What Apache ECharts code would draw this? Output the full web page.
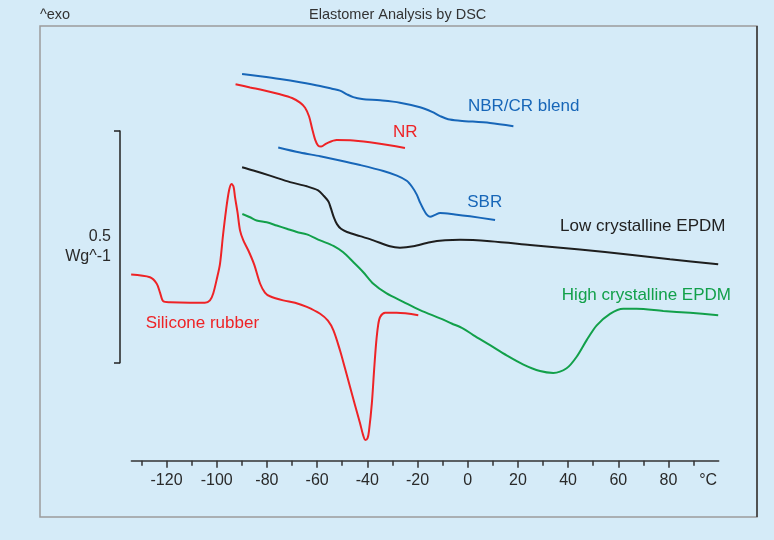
<!DOCTYPE html>
<html><head><meta charset="utf-8">
<script src="https://cdn.jsdelivr.net/npm/echarts@6/dist/echarts.min.js"></script>
<style>html,body{margin:0;padding:0;background:#d5ebf8}#c{width:774px;height:540px}</style>
</head><body><div id="c"></div>
<script>
// Temperature (°C) and heat flow (W/g, arbitrary offset)
const siliconeT = [-134.1,-126.6,-123.9,-122.6,-121.3,-118.6,-110.6,-104.7,-102.7,-101.4,-99.9,-98.7,-97.5,-96.3,-95.1,-94.1,-93.3,-92.7,-91.7,-90.7,-89.4,-87.4,-85.1,-82.7,-80.8,-78.8,-73.5,-68.8,-64.1,-58.8,-55.7,-53.5,-50.9,-48.9,-46.9,-44.9,-42.9,-41.7,-40.8,-39.9,-39.3,-38.2,-37.3,-36.5,-35.7,-34.9,-32.9,-28.3,-19.7];
const siliconeV = [0.403,0.397,0.383,0.364,0.345,0.343,0.342,0.342,0.347,0.362,0.395,0.426,0.488,0.542,0.585,0.599,0.593,0.570,0.537,0.498,0.477,0.455,0.425,0.383,0.364,0.356,0.347,0.342,0.333,0.318,0.303,0.282,0.239,0.200,0.160,0.120,0.081,0.056,0.045,0.049,0.066,0.124,0.196,0.254,0.293,0.311,0.320,0.320,0.315];

const lowEpdmT = [-89.9,-85.4,-78.8,-70.8,-64.1,-59.6,-57.3,-55.5,-54.5,-53.3,-52.1,-50.5,-48.1,-42.9,-37.6,-31,-27,-21.7,-15,-9,-3.1,8.9,24.8,44.7,64.7,80.6,99.8];
const lowEpdmV = [0.635,0.628,0.617,0.603,0.594,0.585,0.573,0.561,0.546,0.526,0.512,0.502,0.495,0.486,0.477,0.464,0.461,0.464,0.473,0.477,0.478,0.475,0.467,0.457,0.446,0.436,0.425];

const highEpdmT = [-89.8,-86.7,-84.1,-80.1,-76.1,-72.1,-68.1,-64.1,-58.8,-53.5,-49.6,-45.6,-41.6,-37.6,-32.3,-25.7,-19,-11,-6.4,-1.8,2.2,8.9,15.5,22.2,28.8,34.1,39.4,43.4,47.4,51.4,56.7,62,67.3,77.9,88.6,99.8];
const highEpdmV = [0.534,0.527,0.520,0.516,0.509,0.502,0.495,0.490,0.477,0.465,0.451,0.430,0.408,0.383,0.362,0.344,0.326,0.308,0.297,0.286,0.272,0.250,0.228,0.208,0.194,0.190,0.200,0.225,0.261,0.293,0.318,0.329,0.329,0.324,0.320,0.315];

const nbrT = [-89.9,-82.7,-74.8,-66.8,-58.8,-54.1,-50.9,-48.1,-45.6,-42.1,-34.9,-27,-19,-14.2,-11,-7.8,-3.1,8.9,18.2];
const nbrV = [0.837,0.832,0.826,0.819,0.811,0.805,0.801,0.793,0.787,0.783,0.780,0.775,0.765,0.755,0.746,0.739,0.736,0.731,0.724];

const nrT = [-92.5,-86.7,-81.4,-74.8,-70,-66.8,-64.8,-63.2,-62,-60.8,-59.6,-58.4,-56.2,-52.2,-45.6,-36.3,-25];
const nrV = [0.815,0.808,0.802,0.793,0.785,0.775,0.764,0.745,0.719,0.695,0.682,0.680,0.687,0.694,0.693,0.687,0.677];

const sbrT = [-75.5,-66.8,-58.8,-50.9,-42.9,-33.6,-28.2,-24.3,-22.2,-20.3,-19,-17.7,-16.4,-15,-13,-11,-5.1,0.9,10.9];
const sbrV = [0.678,0.667,0.659,0.650,0.640,0.627,0.617,0.606,0.593,0.576,0.559,0.545,0.533,0.528,0.532,0.536,0.533,0.529,0.521];

const majorTicks = [-120,-100,-80,-60,-40,-20,0,20,40,60,80];
const minorTicks = [-130,-110,-90,-70,-50,-30,-10,10,30,50,70,90];
const unitLabel = '°C';
const unitAt = 95.8;

const labelNames = ['NBR/CR blend','NR','SBR','Low crystalline EPDM','High crystalline EPDM','Silicone rubber'];
const labelT = [0.1,-29.8,-0.2,36.8,37.5,-128.3];
const labelV = [0.768,0.711,0.559,0.508,0.359,0.298];

const BLUE = '#1766b8', RED = '#ee2326', BLACK = '#1e1e1e', GREEN = '#12a04a';
const labelColors = [BLUE, RED, BLUE, '#222', GREEN, RED];
const FONT = '"Liberation Sans", Arial, sans-serif';

function line(name, T, V, color) {
  return {
    type: 'line', name, xAxisIndex: 0, yAxisIndex: 0,
    data: T.map((t, i) => [t, V[i]]),
    showSymbol: false, symbol: 'none',
    smooth: 0.3,
    lineStyle: { color, width: 2 }, itemStyle: { color }, z: 3
  };
}

const chart = echarts.init(document.getElementById('c'), null, { renderer: 'canvas' });
chart.setOption({
  animation: false,
  backgroundColor: '#d5ebf8',
  textStyle: { fontFamily: FONT },
  title: [
    { text: 'Elastomer Analysis by DSC', left: 309, top: 7, padding: 0,
      textStyle: { fontSize: 14.5, fontWeight: 'normal', color: '#333', fontFamily: FONT } },
    { text: '^exo', left: 40, top: 7, padding: 0,
      textStyle: { fontSize: 14.5, fontWeight: 'normal', color: '#333', fontFamily: FONT } }
  ],
  graphic: [
    { type: 'rect', shape: { x: 40, y: 26, width: 717, height: 491 },
      style: { fill: 'none', stroke: '#9c9c9c', lineWidth: 1.5 }, silent: true, z: 0 },
    { type: 'line', shape: { x1: 757, y1: 26, x2: 757, y2: 517 },
      style: { stroke: '#333', lineWidth: 1.5 }, silent: true, z: 0 }
  ],
  grid: [
    { left: 131.4, width: 587.3, top: 21.8, height: 438.9, outerBoundsMode: 'none' },
    { left: 120, width: 10, top: 131, height: 231.7, outerBoundsMode: 'none' }
  ],
  xAxis: [
    { type: 'value', gridIndex: 0, min: -134, max: 100, position: 'bottom',
      axisLine: { show: true, lineStyle: { color: '#333', width: 1.5 } },
      axisTick: { show: true, customValues: majorTicks, length: 7, lineStyle: { color: '#333', width: 1.5 } },
      axisLabel: { show: true, customValues: majorTicks.concat([unitAt]), fontSize: 16, color: '#2a2a2a', margin: 12, fontFamily: FONT,
                   formatter: v => (v === unitAt ? unitLabel : String(v)) },
      splitLine: { show: false }
    },
    { type: 'value', gridIndex: 0, min: -134, max: 100, position: 'bottom',
      axisLine: { show: false },
      axisTick: { show: true, customValues: minorTicks, length: 5, lineStyle: { color: '#333', width: 1.5 } },
      axisLabel: { show: false }, splitLine: { show: false }
    },
    { type: 'value', gridIndex: 1, show: false, min: 0, max: 1 }
  ],
  yAxis: [
    { type: 'value', gridIndex: 0, min: 0, max: 0.95, show: false },
    { type: 'value', gridIndex: 1, min: 0, max: 0.5, interval: 0.5, position: 'left',
      axisLine: { show: true, lineStyle: { color: '#222', width: 1.5 } },
      axisTick: { show: true, inside: false, length: 6, lineStyle: { color: '#222', width: 1.5 } },
      axisLabel: { show: false }, splitLine: { show: false },
      name: '0.5\nWg^-1', nameLocation: 'middle', nameRotate: 0, nameGap: 9,
      nameTextStyle: { fontSize: 16, lineHeight: 20, color: '#2a2a2a', align: 'right', verticalAlign: 'middle', padding: [0, 0, 17, 0], fontFamily: FONT }
    }
  ],
  series: [
    line('NBR/CR blend', nbrT, nbrV, BLUE),
    line('NR', nrT, nrV, RED),
    line('SBR', sbrT, sbrV, BLUE),
    line('Low crystalline EPDM', lowEpdmT, lowEpdmV, BLACK),
    line('High crystalline EPDM', highEpdmT, highEpdmV, GREEN),
    line('Silicone rubber', siliconeT, siliconeV, RED),
    { type: 'scatter', xAxisIndex: 0, yAxisIndex: 0, symbolSize: 0, silent: true, z: 4,
      itemStyle: { opacity: 1 },
      label: { show: true, position: 'right', distance: 0, fontSize: 17, fontFamily: FONT,
               formatter: p => p.name },
      data: labelNames.map((n, i) => ({ name: n, value: [labelT[i], labelV[i]], label: { color: labelColors[i] } }))
    }
  ]
});
</script></body></html>
